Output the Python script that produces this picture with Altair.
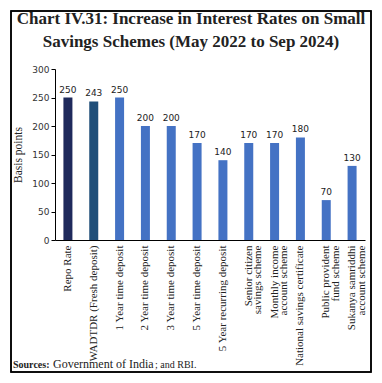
import altair as alt
import pandas as pd

categories = [
    "Repo Rate",
    "WADTDR (Fresh deposit)",
    "1 Year time deposit",
    "2 Year time deposit",
    "3 Year time deposit",
    "5 Year time deposit",
    "5 Year recurring deposit",
    "Senior citizen\nsavings scheme",
    "Monthly income\naccount scheme",
    "National savings certificate",
    "Public provident\nfund scheme",
    "Sukanya samriddhi\naccount scheme",
]
values = [250, 243, 250, 200, 200, 170, 140, 170, 170, 180, 70, 130]
colors = ["#1F2A5C", "#1F4E79"] + ["#4472C4"] * 10
y_ticks = [0, 50, 100, 150, 200, 250, 300]

title_text = "Chart IV.31: Increase in Interest Rates on Small\nSavings Schemes (May 2022 to Sep 2024)"

df = pd.DataFrame({"cat": categories, "val": values, "color": colors})

# whole canvas is the view; its stroke is the frame of the chart
VW, VH = 360, 361
X0, X1 = 44, 354      # plot area left/right inside the frame
Y0, Y1 = 229, 58      # plot area bottom/top inside the frame

xenc = alt.X("cat:N", sort=categories, title=None,
             scale=alt.Scale(range=[X0, X1], paddingInner=0.65, paddingOuter=0.325),
             axis=alt.Axis(labelAngle=-90, labelFont="Liberation Serif", labelFontSize=11,
                           labelColor="#222", ticks=False, domainColor="black",
                           domainWidth=1, labelPadding=5, labelLimit=200,
                           labelBaseline="middle", labelAlign="right", labelLineHeight=9.5,
                           offset=-(VH - Y0),
                           labelExpr="split(datum.label, '\\n')"))
yenc = alt.Y("val:Q", title="Basis points",
             scale=alt.Scale(domain=[0, 300], nice=False, range=[Y0, Y1]),
             axis=alt.Axis(values=y_ticks, grid=False, tickSize=4, tickColor="black",
                           domainColor="black", labelFont="DejaVu Sans", labelFontSize=9,
                           labelColor="#333", labelOverlap=False, titleFont="Liberation Serif",
                           titleFontSize=11.5, titleFontWeight="normal", titleColor="#222",
                           titlePadding=8, labelPadding=2, offset=-X0))

bars = alt.Chart(df).mark_bar(size=9).encode(
    x=xenc, y=yenc,
    color=alt.Color("color:N", scale=None),
)
labels = alt.Chart(df).mark_text(dy=-8, font="DejaVu Sans", fontSize=9, color="#222").encode(
    x=xenc, y=yenc, text="val:Q"
)

box = pd.DataFrame({"k": [0]})
frame = alt.Chart(box).mark_rect(fill="transparent", stroke="black", strokeWidth=1.5).encode(
    x=alt.value(0), x2=alt.value(VW), y=alt.value(0), y2=alt.value(VH))
title = alt.Chart(box).mark_text(align="center", baseline="alphabetic", font="Liberation Serif",
                                 fontSize=17, fontWeight="bold", color="#222",
                                 lineBreak="\n", lineHeight=23).encode(
    x=alt.value(180), y=alt.value(13), text=alt.value(title_text))
src_bold = alt.Chart(box).mark_text(align="left", baseline="alphabetic", font="Liberation Serif",
                                    fontSize=10, fontWeight="bold", color="#222").encode(
    x=alt.value(2), y=alt.value(357), text=alt.value("Sources:"))
src_gov = alt.Chart(box).mark_text(align="left", baseline="alphabetic", font="Liberation Serif",
                                   fontSize=12, color="#222").encode(
    x=alt.value(42), y=alt.value(357), text=alt.value("Government of India"))
src_rbi = alt.Chart(box).mark_text(align="left", baseline="alphabetic", font="Liberation Serif",
                                   fontSize=10, color="#222").encode(
    x=alt.value(144), y=alt.value(357), text=alt.value("; and RBI."))

chart = alt.layer(bars, labels, frame, title, src_bold, src_gov, src_rbi).properties(
    width=VW, height=VH,
    padding=3,
    autosize=alt.AutoSizeParams(type="none"),
).configure_view(stroke="black", strokeWidth=1.5, clip=False)

chart.save("out.html", embed_options={"renderer": "svg", "actions": False})
